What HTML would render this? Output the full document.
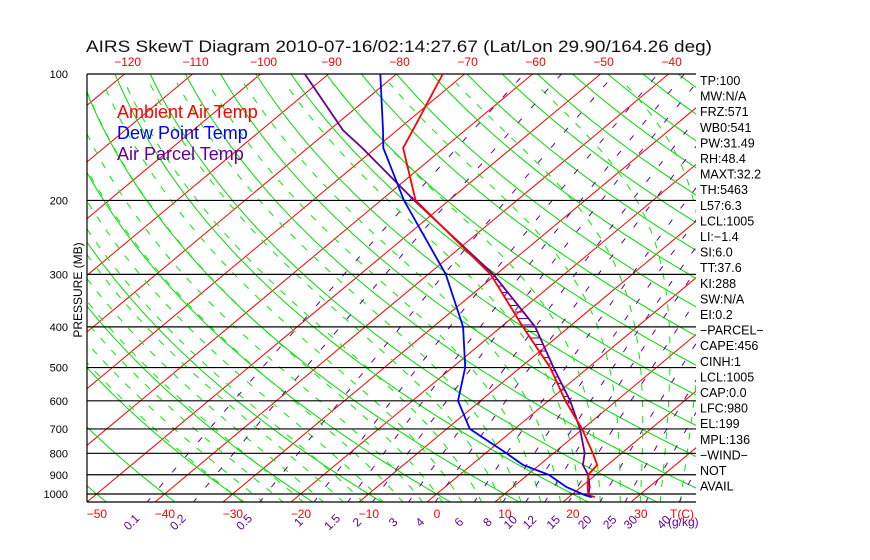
<!DOCTYPE html>
<html><head><meta charset="utf-8"><style>
html,body{margin:0;padding:0;background:#fff;}
svg{display:block;font-family:"Liberation Sans",sans-serif;}
</style></head><body>
<svg id="chart" width="870" height="560" xmlns="http://www.w3.org/2000/svg">
<defs><clipPath id="clip"><rect x="87" y="74" width="609" height="428"/></clipPath></defs>
<text x="86" y="52" font-size="17" fill="#111" textLength="626" lengthAdjust="spacingAndGlyphs">AIRS SkewT Diagram 2010-07-16/02:14:27.67 (Lat/Lon 29.90/164.26 deg)</text>
<g id="bg" clip-path="url(#clip)"></g>
<g id="fg"></g>
<text transform="translate(82,290) rotate(-90)" text-anchor="middle" font-size="12" fill="#000">PRESSURE (MB)</text>
<g font-size="18">
<text x="117" y="118" fill="#ff0000">Ambient Air Temp</text>
<text x="117" y="139" fill="#0000ff">Dew Point Temp</text>
<text x="117" y="160" fill="#660099">Air Parcel Temp</text>
</g>
</svg>
<script>
const pressures=[100,136,150,200,300,400,500,600,700,800,853,900,963,1006,1017];
const tempC=[-73.2,-67.7,-66,-54.9,-30.8,-16.8,-5.6,2.5,9.9,15.8,18.5,18.9,21.0,22.5,23.8];
const dewC=[-82.4,-72.1,-68.9,-56.6,-37.4,-25.6,-18.1,-13.3,-6.6,3.1,7.6,13.1,17.9,22.0,23.3];
const parcelC=[-93.5,-78,-72,-55.1,-30.4,-15.0,-5.1,3.2,9.6,14.6,16.4,18.9,21.3,22.5,23.4];
const isobars=[100,200,300,400,500,600,700,800,900,1000];
const bottomTicks=[-50,-40,-30,-20,-10,0,10,20,30];
const topTicks=[-120,-110,-100,-90,-80,-70,-60,-50,-40];
const mixRatios=[0.1,0.2,0.5,1,1.5,2,3,4,6,8,10,12,15,20,25,30,40];
const statLines=["TP:100","MW:N/A","FRZ:571","WB0:541","PW:31.49","RH:48.4","MAXT:32.2","TH:5463","L57:6.3","LCL:1005","LI:\u22121.4","SI:6.0","TT:37.6","KI:288","SW:N/A","EI:0.2","\u2212PARCEL\u2212","CAPE:456","CINH:1","LCL:1005","CAP:0.0","LFC:980","EL:199","MPL:136","\u2212WIND\u2212","NOT","AVAIL"];

const NS="http://www.w3.org/2000/svg";
const bg=document.getElementById('bg'), fg=document.getElementById('fg');
function Y(p){return 74+182.4*Math.log(p/100);}
function X(T,p){return 427+6.8*T+1.2*(502-Y(p));}
function mk(tag,parent,attrs){const e=document.createElementNS(NS,tag);for(const k in attrs)e.setAttribute(k,attrs[k]);parent.appendChild(e);return e;}
function pathFrom(pts){return pts.map((q,i)=>(i?'L':'M')+q[0].toFixed(1)+' '+q[1].toFixed(1)).join('');}
const pGrid=[];for(let p=1050;p>=95;p-=5)pGrid.push(p);

for(let T=-160;T<=50;T+=10){
  const l=mk('line',bg,{x1:X(T,1050),y1:Y(1050),x2:X(T,100),y2:Y(100),stroke:'#ff0000','stroke-width':1});
  
  
}
for(let k=-20;k<=20;k++){
  const th=273.15+10*k;
  const pts=pGrid.map(p=>[X(th*Math.pow(p/1000,0.286)-273.15,p),Y(p)]);
  const e=mk('path',bg,{d:pathFrom(pts),fill:'none',stroke:'#00dd00','stroke-width':1});
  
  
}
function es(Tc){return 6.112*Math.exp(17.67*Tc/(Tc+243.5));}
for(let T0=-30;T0<=52;T0+=3){
  let Tb=T0+273.15;let pts=[];
  for(let p=1000;p<1050;p+=1){const e=es(Tb-273.15),rs=0.622*e/(p-e);const d=(287*Tb+2.5e6*rs)/(1004+2.5e6*2.5e6*rs*0.622/(287*Tb*Tb));Tb+=d*Math.log((p+1)/p);}
  let T=Tb;
  for(let p=1050;p>100;p-=1){
    if(p%5===0)pts.push([X(T-273.15,p),Y(p)]);
    const e=es(T-273.15),rs=0.622*e/(p-e);
    const d=(287*T+2.5e6*rs)/(1004+2.5e6*2.5e6*rs*0.622/(287*T*T));
    T-=d*Math.log(p/(p-1));
  }
  const e=mk('path',bg,{d:pathFrom(pts),fill:'none',stroke:'#00ee00','stroke-width':1,'stroke-dasharray':'7 9'});
  
  
}
function tdFromW(w,p){const e=w*p/(622+w);const a=Math.log(e/6.112);return 243.5*a/(17.67-a);}
mixRatios.forEach(w=>{
  const pts=pGrid.map(p=>[X(tdFromW(w,p),p),Y(p)]);
  const e=mk('path',bg,{d:pathFrom(pts),fill:'none',stroke:'#660099','stroke-width':1,'stroke-dasharray':'6 14'});
  
  
  const x=X(tdFromW(w,1050),1050)-12;
  const t=mk('text',fg,{x:x,y:525,'font-size':12,fill:'#660099',transform:`rotate(-45 ${x} 525)`,'text-anchor':'middle'});
  t.textContent=String(w);
  
  
});
{const t=mk('text',fg,{x:668,y:526,'font-size':12,fill:'#660099'});t.textContent='(g/kg)';

}
isobars.forEach(p=>{
  const l=mk('line',fg,{x1:87,x2:696,y1:Y(p),y2:Y(p),stroke:'#000','stroke-width':1.2});
  
  
  const t=mk('text',fg,{x:68,y:Y(p)+4,'font-size':11,'text-anchor':'end',fill:'#000'});t.textContent=p;
  
  
});
{const l=mk('line',fg,{x1:87,x2:696,y1:502,y2:502,stroke:'#000','stroke-width':1.2});
const v=mk('line',fg,{x1:87,x2:87,y1:74,y2:502,stroke:'#000','stroke-width':1.2});}
bottomTicks.forEach(T=>{
  const t=mk('text',fg,{x:X(T,1050)+11,y:518,'font-size':12,'text-anchor':'middle',fill:'#ff0000'});t.textContent=T<0?'\u2212'+(-T):T;
  
  
});
{const t=mk('text',fg,{x:670,y:518,'font-size':12,fill:'#ff0000'});t.textContent='T(C)';}
topTicks.forEach(T=>{
  const t=mk('text',fg,{x:X(T,100)+3,y:66,'font-size':12,'text-anchor':'middle',fill:'#ff0000'});t.textContent='\u2212'+(-T);
  
  
});
function interp(arr,p){for(let i=0;i<pressures.length-1;i++){const a=pressures[i],b=pressures[i+1];if(p>=a&&p<=b){const f=Math.log(p/a)/Math.log(b/a);return arr[i]+f*(arr[i+1]-arr[i]);}}return null;}
for(let y=208;y<=412;y+=6.5){
  const p=100*Math.exp((y-74)/182.4);
  const te=interp(tempC,p),tp=interp(parcelC,p);
  if(te!==null&&tp>te){const h=mk('line',fg,{x1:X(te,p),x2:X(tp,p),y1:y,y2:y,stroke:'#660099','stroke-width':1});
    
    }
}
function series(arr,color,name){
  const pts=pressures.map((p,i)=>[X(arr[i],p),Y(p)]);
  const e=mk('path',fg,{d:pathFrom(pts),fill:'none',stroke:color,'stroke-width':1.8});
  
  
}
series(parcelC,'#660099','parcel-temp-line');
series(tempC,'#ff0000','ambient-temp-line');
series(dewC,'#0000ff','dew-point-line');
statLines.forEach((s,i)=>{
  const t=mk('text',fg,{x:700,y:85+i*15.6,'font-size':12.5,fill:'#000'});t.textContent=s;
  
  
});
</script>
</body></html>
